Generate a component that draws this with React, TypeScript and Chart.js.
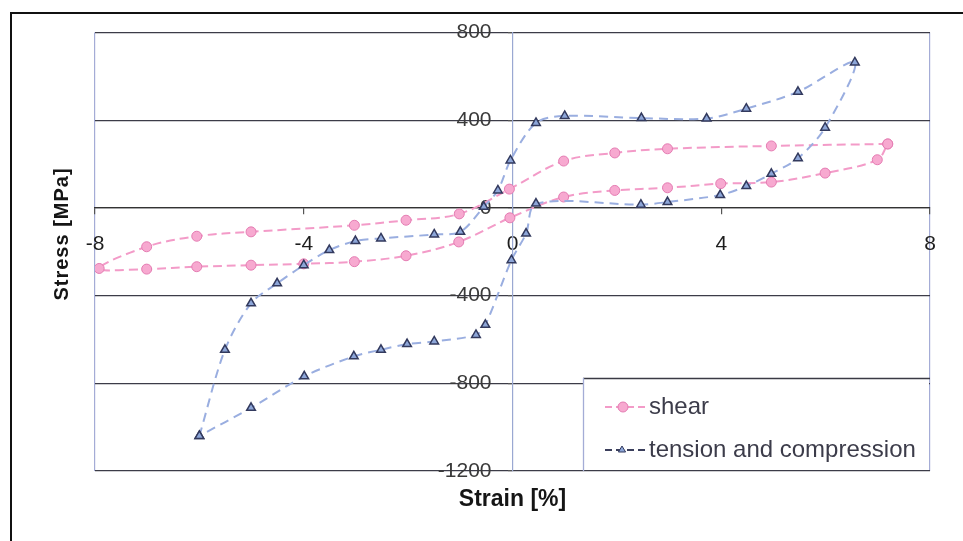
import React, { useEffect, useRef } from 'react';
import { Chart, registerables } from 'chart.js';

Chart.register(...registerables);

// ---------- data ----------
const seriesNames = ['shear', 'tension and compression'];

const shearStrain = [7.19, 4.96, 2.97, 1.96, 0.98, -0.06, -1.02, -2.04, -3.03, -5.01, -6.05, -7.01, -7.92,
  -7.01, -6.05, -5.01, -4.0, -3.03, -2.04, -1.03, -0.05, 0.98, 1.96, 2.97, 3.99, 4.96, 5.99, 6.99, 7.19];
const shearStress = [292, 283, 270, 251, 214, 86, -27, -56, -79, -109, -129, -177, -276,
  -279, -268, -261, -255, -245, -218, -155, -45, 50, 80, 92, 111, 118, 159, 220, 292];

const tcStrain = [-6.0, -5.51, -5.01, -4.51, -4.0, -3.51, -3.01, -2.52, -1.5, -1.0, -0.55, -0.28, -0.04, 0.45, 1.0,
  2.47, 3.72, 4.48, 5.47, 6.56, 5.99, 5.47, 4.96, 4.48, 3.98, 2.97, 2.46, 0.45, 0.26, -0.02, -0.52, -0.7,
  -1.5, -2.02, -2.52, -3.04, -3.99, -5.01, -6.0];
const tcStress = [-1040, -647, -435, -344, -261, -192, -151, -139, -121, -109, 5, 80, 217, 388, 420,
  410, 408, 453, 530, 664, 366, 227, 156, 100, 59, 27, 15, 20, -117, -238, -533, -579,
  -609, -621, -647, -677, -768, -912, -1040];

const xMin = -8, xMax = 8, xStep = 4;
const yMin = -1200, yMax = 800, yStep = 400;
const xTitle = 'Strain [%]';
const yTitle = 'Stress [MPa]';

const FONT = '"Liberation Sans", Arial, sans-serif';

function toPoints(xs: number[], ys: number[]) {
  return xs.map((x, i) => ({ x, y: ys[i] }));
}

function drawTriangle(ctx: CanvasRenderingContext2D, x: number, y: number, r: number) {
  const h = r * 1.5;
  ctx.beginPath();
  ctx.moveTo(x, y - h * 2 / 3);
  ctx.lineTo(x + r * 0.9, y + h / 3);
  ctx.lineTo(x - r * 0.9, y + h / 3);
  ctx.closePath();
  ctx.fill();
  ctx.stroke();
}

const decorPlugin = {
  id: 'decor',
  afterDatasetsDraw(chart: any) {
    const { ctx, chartArea } = chart;
    // legend box
    const lx = 583, ly = 378;
    const rx = chartArea.right, by = chartArea.bottom;
    ctx.save();
    ctx.fillStyle = '#ffffff';
    ctx.fillRect(lx, ly, rx - lx - 1, by - ly - 1);
    ctx.lineWidth = 1.3;
    ctx.strokeStyle = '#3a3a44';
    ctx.beginPath();
    ctx.moveTo(lx, ly + 0.5);
    ctx.lineTo(rx, ly + 0.5);
    ctx.stroke();
    ctx.strokeStyle = '#a4acd6';
    ctx.beginPath();
    ctx.moveTo(lx + 0.5, ly);
    ctx.lineTo(lx + 0.5, by);
    ctx.stroke();

    const ds = chart.data.datasets;
    const rows = [407, 450];
    ctx.font = '24px ' + FONT;
    ctx.textBaseline = 'middle';
    ctx.textAlign = 'left';
    rows.forEach((yy, i) => {
      const d = ds[i];
      ctx.save();
      ctx.setLineDash([7, 4]);
      ctx.lineWidth = 2;
      ctx.strokeStyle = i === 0 ? d.borderColor : '#3b3f5c';
      ctx.beginPath();
      ctx.moveTo(605, yy);
      ctx.lineTo(645, yy);
      ctx.stroke();
      ctx.setLineDash([]);
      ctx.fillStyle = d.pointBackgroundColor;
      ctx.strokeStyle = d.pointBorderColor;
      ctx.lineWidth = 1;
      if (i === 0) {
        ctx.beginPath();
        ctx.arc(623, yy, 5, 0, Math.PI * 2);
        ctx.fill();
        ctx.stroke();
      } else {
        drawTriangle(ctx, 622, yy, 4);
      }
      ctx.restore();
      ctx.fillStyle = '#3c3c4a';
      ctx.fillText(d.label, 649, yy);
    });
    ctx.restore();
  },
  afterDraw(chart: any) {
    const { ctx, chartArea } = chart;
    ctx.save();
    ctx.fillStyle = '#151515';
    ctx.textAlign = 'center';
    ctx.textBaseline = 'middle';
    ctx.font = 'bold 23px ' + FONT;
    ctx.fillText(xTitle, (chartArea.left + chartArea.right) / 2, 500);
    ctx.translate(62, 234);
    ctx.rotate(-Math.PI / 2);
    ctx.font = 'bold 20px ' + FONT;
    (ctx as any).letterSpacing = '1px';
    ctx.fillText(yTitle, 0, 0);
    ctx.restore();
  },
};

export default function App() {
  const ref = useRef<HTMLCanvasElement | null>(null);

  useEffect(() => {
    if (!ref.current) return;
    const chart = new Chart(ref.current, {
      type: 'scatter',
      data: {
        datasets: [
          {
            label: seriesNames[0],
            data: toPoints(shearStrain, shearStress),
            showLine: true,
            order: 1,
            borderColor: '#F39BC8',
            borderWidth: 2,
            borderDash: [9, 5],
            tension: 0.35,
            pointStyle: 'circle',
            pointRadius: 5,
            pointBackgroundColor: '#F7A9D0',
            pointBorderColor: '#E47CB2',
            pointBorderWidth: 1,
          },
          {
            label: seriesNames[1],
            data: toPoints(tcStrain, tcStress),
            showLine: true,
            order: 0,
            borderColor: '#9AAEE0',
            borderWidth: 2,
            borderDash: [9, 6],
            tension: 0.3,
            pointStyle: 'triangle',
            pointRadius: 5,
            pointBackgroundColor: '#8DA6D8',
            pointBorderColor: '#333A5E',
            pointBorderWidth: 1.5,
          },
        ],
      } as any,
      options: {
        responsive: false,
        animation: false,
        layout: { padding: { left: 95, right: 33, top: 29, bottom: 70 } },
        plugins: { legend: { display: false }, tooltip: { enabled: false } },
        scales: {
          x: {
            type: 'linear',
            min: xMin,
            max: xMax,
            position: { y: 0 } as any,
            afterFit: (s: any) => { s.height = 0; },
            ticks: {
              stepSize: xStep,
              maxRotation: 0,
              padding: 18,
              color: '#1e1e1e',
              font: { family: FONT, size: 21 },
              callback: (v: any) => String(v),
            },
            grid: {
              color: (c: any) => (c.tick && Math.abs(c.tick.value) === 8 ? '#a4acd6' : 'rgba(0,0,0,0)'),
              tickColor: '#555',
              tickLength: 6,
              lineWidth: 1.2,
            },
            border: { display: true, color: '#333', width: 1.2 },
          },
          y: {
            type: 'linear',
            min: yMin,
            max: yMax,
            position: { x: 0 } as any,
            afterFit: (s: any) => { s.width = 0; },
            ticks: {
              stepSize: yStep,
              padding: 20,
              color: '#3a3a3a',
              font: { family: FONT, size: 21 },
              callback: (v: any) => String(v) + '\u2003',
            },
            grid: {
              color: '#3c3c48',
              tickColor: '#555',
              tickLength: 4,
              lineWidth: 1.2,
            },
            border: { display: true, color: '#9aa8d2', width: 1.2 },
          },
        },
      } as any,
      plugins: [decorPlugin],
    });
    return () => chart.destroy();
  }, []);

  return (
    <div style={{ position: 'absolute', left: 0, top: 0, width: 963, height: 541, background: '#fff', overflow: 'hidden' }}>
      <div style={{ position: 'absolute', left: 10, top: 12, width: 1000, height: 600, borderTop: '2px solid #111', borderLeft: '2px solid #111' }} />
      <canvas ref={ref} width={963} height={541} style={{ position: 'absolute', left: 0, top: 0, display: 'block' }} />
    </div>
  );
}
